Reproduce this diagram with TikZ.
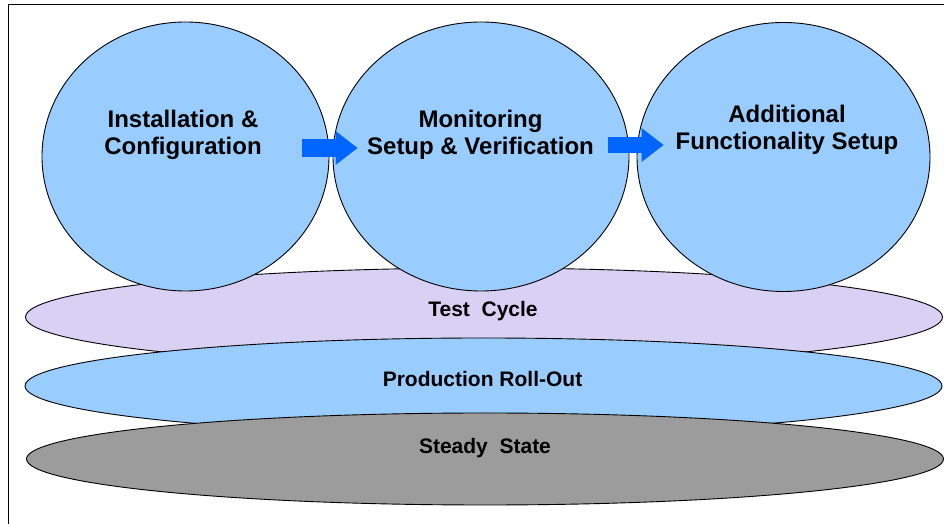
\documentclass[tikz,border=0pt]{standalone}
\usepackage{fontspec}
\setmainfont{Liberation Sans}
\usetikzlibrary{shapes.geometric, arrows.meta}

\definecolor{bubble}{HTML}{99CCFF}
\definecolor{lilac}{HTML}{D9D1F4}
\definecolor{slate}{HTML}{9C9C9C}
\definecolor{push}{HTML}{0066FF}

\begin{document}
\begin{tikzpicture}[x=1pt, y=1pt,
		shell/.style={ellipse, draw=black, line width=0.9pt, inner sep=0pt},
		stage/.style={shell, fill=bubble, minimum width=#1, minimum height=269pt},
		band/.style={shell, minimum width=917pt, minimum height=#1},
		stagetext/.style={align=center, font=\bfseries\fontsize{24}{27}\selectfont},
		bandtext/.style={font=\bfseries\fontsize{21}{25}\selectfont},
		pusharrow/.style={push, line width=#1, -{Triangle[length=22pt, width=34pt, line width=0pt]}}]

		\useasboundingbox	(0, 0) rectangle (944, 524);
		\draw [line width=1pt]	(8, 0) -- (8, 519) -- (944, 519);

		\node [band=98pt, fill=lilac]	(test) at (484, 207) {};
		\node [band=96pt, fill=bubble]	(prod) at (483.5, 138) {};
		\node [band=92pt, fill=slate]	(steady) at (485, 65) {};

		\node [bandtext]	(test label) at (483, 212.5) {Test\ \ Cycle};
		\node [bandtext]	(prod label) at (482.5, 145) {Production Roll-Out};
		\node [bandtext]	(steady label) at (485, 76) {Steady\ \ State};

		\node [stage=287pt]	(install) at (185.5, 367.5) {};
		\node [stage=296pt]	(monitor) at (481, 367.5) {};
		\node [stage=293pt]	(extra) at (783.5, 367) {};

		\node [stagetext]	(install label) at (183, 389.5) {Installation \&\\Configuration};
		\node [stagetext]	(monitor label) at (480.5, 389.5) {Monitoring\\Setup \& Verification};
		\node [stagetext]	(extra label) at (787, 394) {Additional\\Functionality Setup};

		\draw [pusharrow=18pt]	([xshift=-27pt, yshift=8.5pt]install.east) to ([xshift=25pt, yshift=8.5pt]monitor.west);
		\draw [pusharrow=16pt]	([xshift=-21pt, yshift=11.5pt]monitor.east) to ([xshift=27pt, yshift=12pt]extra.west);
\end{tikzpicture}
\end{document}
